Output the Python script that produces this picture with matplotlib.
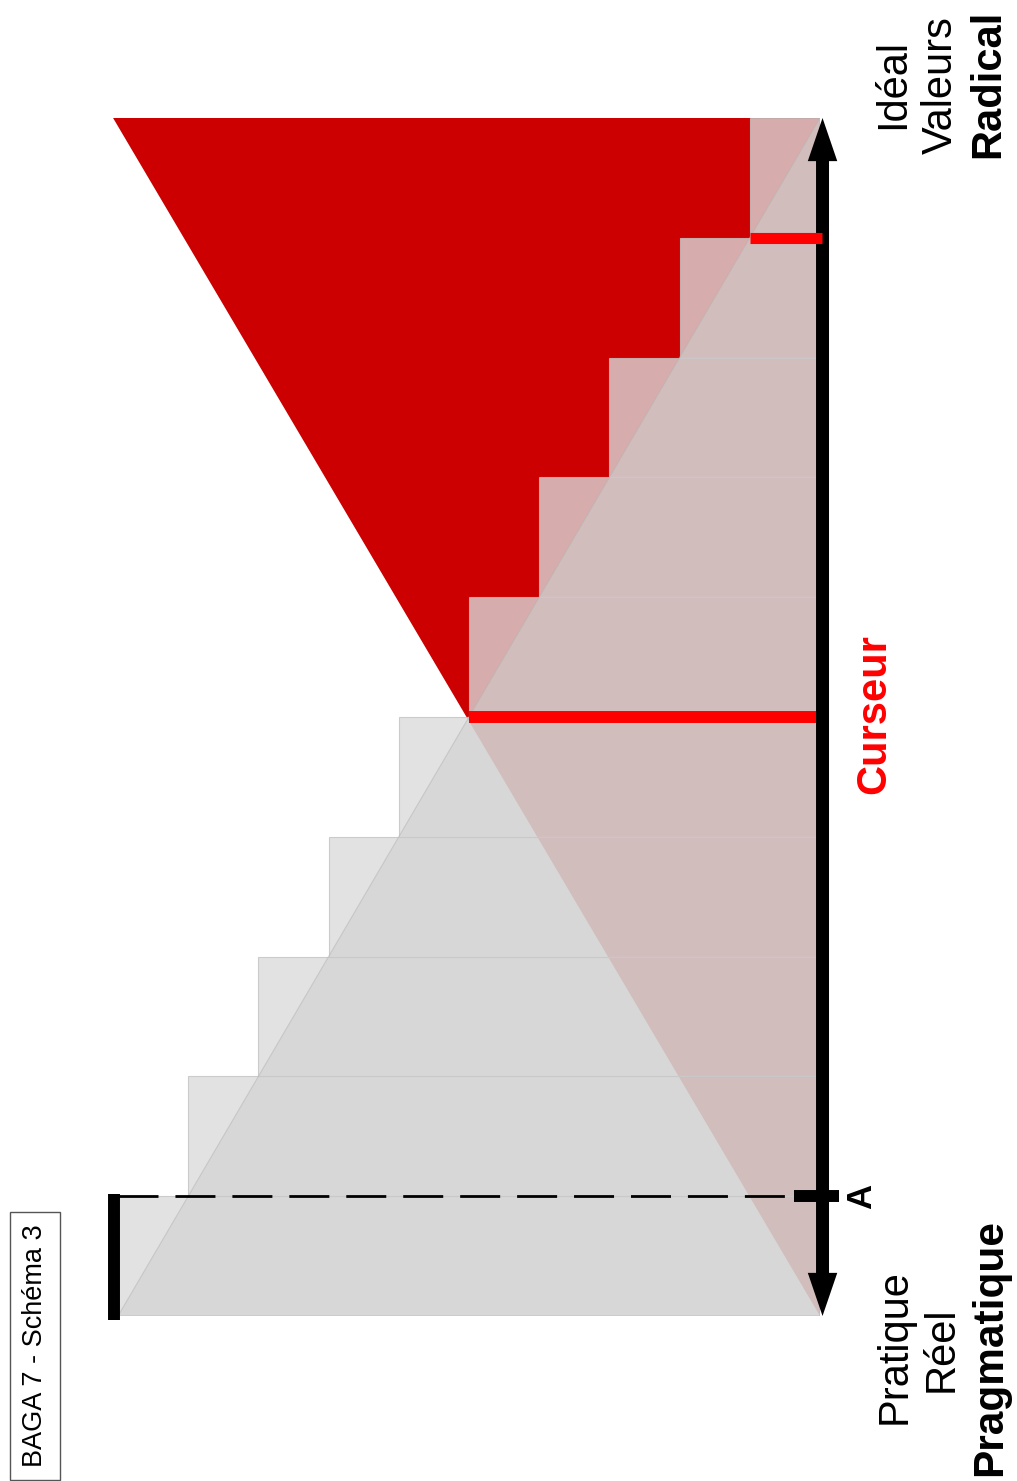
import numpy as np
import matplotlib.pyplot as plt

plt.rcParams['font.family'] = ['Liberation Sans', 'DejaVu Sans']

W, H = 1017, 1481

# staircase: one step per unit of the axis, from "Pragmatique" (0) to "Radical" (10)
steps = np.arange(10)
step_values = [10, 9, 8, 7, 6, 5, 4, 3, 2, 1]

# the two triangles, as (value, position) corners
grey_tri_v = [10, 0, 0]
grey_tri_u = [0, 10, 0]
red_tri_v = [0, 10.07, 0]
red_tri_u = [0, 10, 10]

cursor_pos, cursor_val = 5, 5
marker_pos, marker_val = 9, 1
point_a = 1
axis_start, axis_end = 0, 10

fig = plt.figure(figsize=(W / 100, H / 100), dpi=100)
ax = fig.add_axes([118 / W, 165 / H, 702 / W, 1198 / H])
ax.set_xlim(10, 0)
ax.set_ylim(0, 10)
ax.axis('off')

# red triangle at the back
ax.fill(red_tri_v, red_tri_u, color='#cc0000', lw=0, zorder=1, clip_on=False)

# grey staircase
ax.barh(steps + 0.5, step_values, height=1, left=0, color='#dbdbdb', alpha=0.79,
        edgecolor='#c2c2c2', linewidth=0.8, zorder=2)

# grey triangle on top
ax.fill(grey_tri_v, grey_tri_u, facecolor='#cecece', alpha=0.53,
        edgecolor='#b4b4b4', lw=0.8, zorder=3)

# cursor lines
ax.plot([0.06, cursor_val], [cursor_pos, cursor_pos], color='red', lw=8.6,
        solid_capstyle='butt', zorder=5, clip_on=False)
ax.plot([-0.03, marker_val], [marker_pos, marker_pos], color='red', lw=8,
        solid_capstyle='butt', zorder=7, clip_on=False)

# point A
ax.plot([10, 0], [point_a, point_a], color='black', lw=2, dashes=(14.4, 6.1),
        zorder=4, clip_on=False)
ax.plot([10.06, 10.06], [axis_start - 0.03, point_a + 0.02], color='black', lw=8.6,
        solid_capstyle='butt', zorder=5, clip_on=False)
ax.plot(0.05, point_a, marker='_', ms=32.4, mew=8.6, color='black', zorder=7,
        clip_on=False)

# double arrow of the axis
mid = (axis_start + axis_end) / 2
for end in (axis_start, axis_end):
    ax.arrow(-0.036, mid, 0, end - mid, width=0.185, head_width=0.42,
             head_length=0.36, length_includes_head=True, color='black',
             lw=0, zorder=6, clip_on=False)


def label(x, y, s, **kw):
    fig.text(x / W, 1 - y / H, s, rotation=90, ha='center', va='center', **kw)


label(893, 84, 'Idéal', fontsize=30)
label(941, 85, 'Valeurs', fontsize=30)
label(988, 84, 'Radical', fontsize=30, fontweight='bold')

label(895, 1347, 'Pratique', fontsize=30)
label(942, 1349, 'Réel', fontsize=30)
label(990, 1348, 'Pragmatique', fontsize=30.5, fontweight='bold')

label(874, 714, 'Curseur', fontsize=30, fontweight='bold', color='red')
label(862, 1196, 'A', fontsize=25, fontweight='bold')

label(35, 1346, 'BAGA 7 - Schéma 3', fontsize=19.5,
      bbox=dict(boxstyle='square,pad=0.45', fc='white', ec='#555555', lw=1))

fig.savefig('out.png', dpi=100)
